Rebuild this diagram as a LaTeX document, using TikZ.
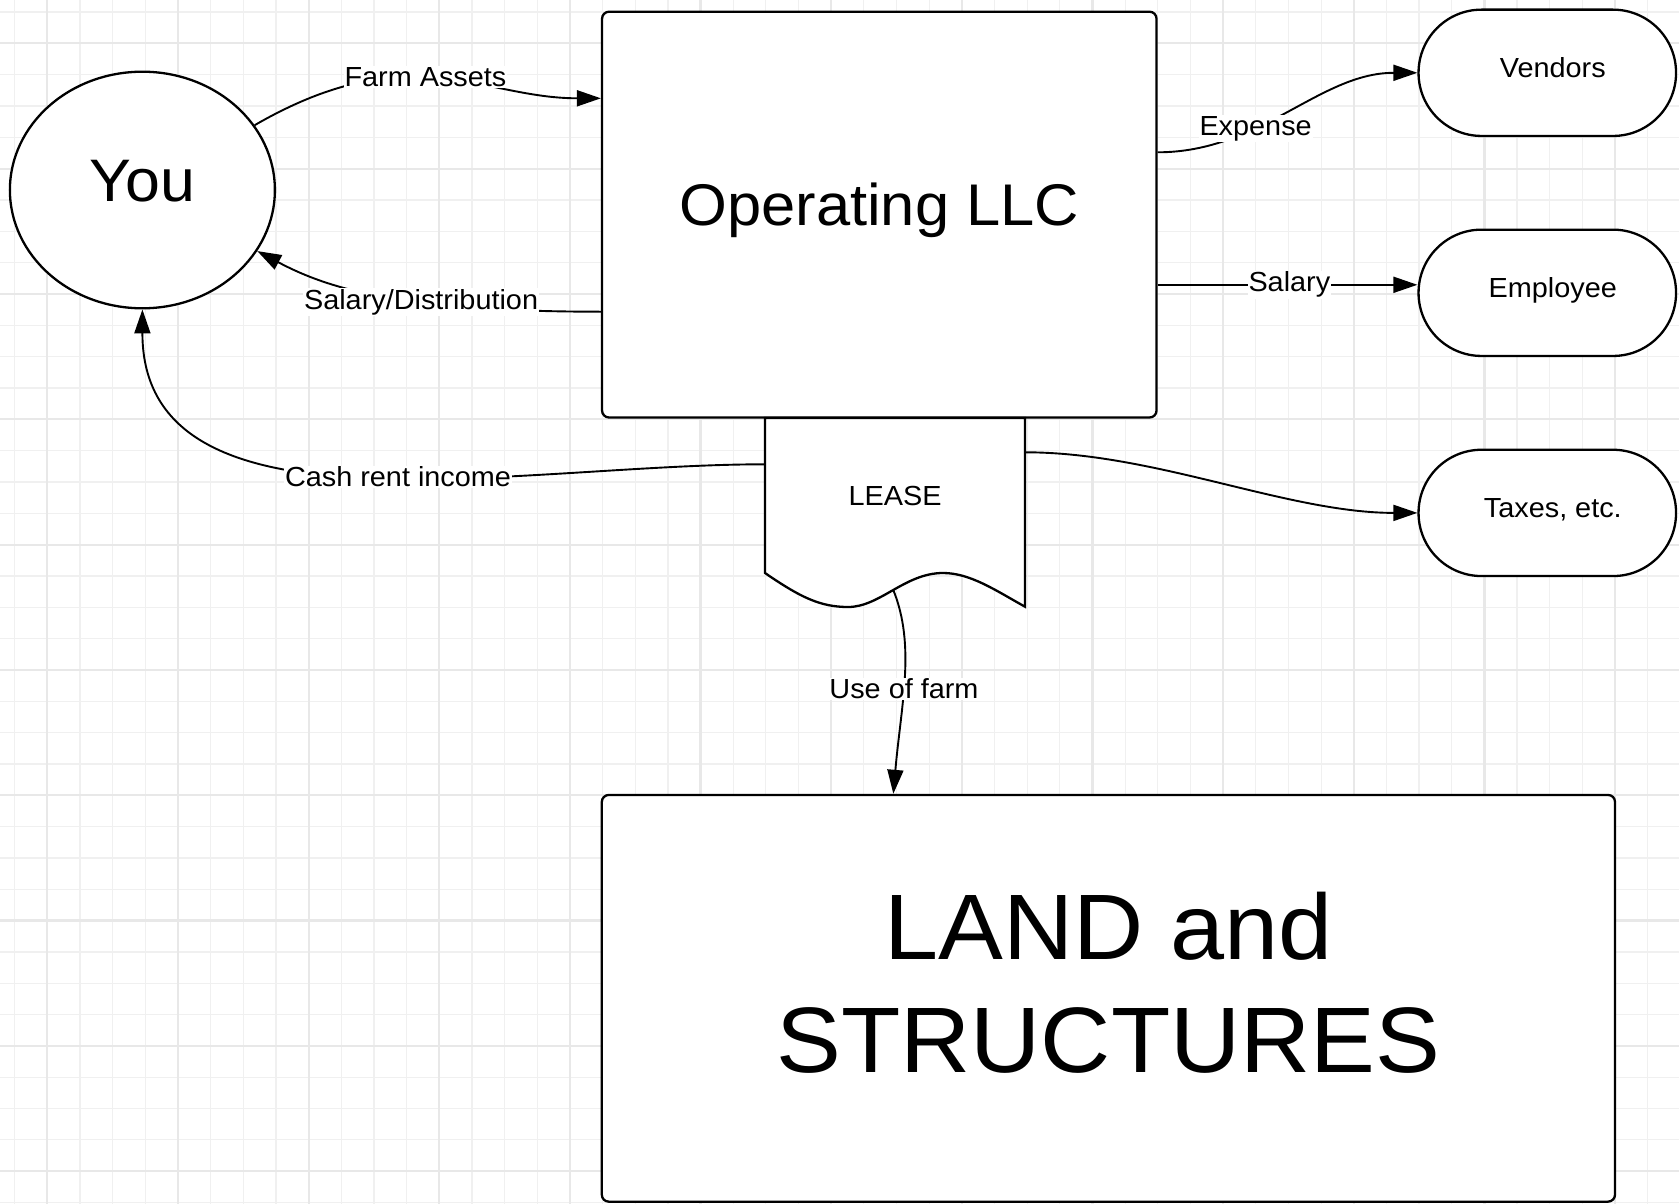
\documentclass[tikz,border=0pt]{standalone}
\usepackage{fontspec}
\setmainfont{Liberation Sans}[FakeStretch=1.045]
\usetikzlibrary{arrows.meta,shapes.geometric}

% font sizes used in the chart
\newcommand\lblsize{\fontsize{27.6}{33}\selectfont}
\newcommand\yousize{\fontsize{60}{72}\selectfont}
\newcommand\llcsize{\fontsize{58.8}{70}\selectfont}
\newcommand\landsize{\fontsize{93}{113.4}\selectfont}
% pill captions sit a little right of the shape centre
\newcommand\pilltext[1]{\hspace*{11pt}#1}

\begin{document}
\begin{tikzpicture}[x=1pt,y=1pt,
  gridminor/.style={draw=black!6, line width=1.2pt},
  gridmajor/.style={draw=black!9, line width=2.2pt},
  outline/.style={draw=black, line width=2.3pt, fill=white},
  box/.style={outline, rectangle, rounded corners=7pt, inner sep=0pt},
  pill/.style={outline, rectangle, rounded corners=63pt, inner sep=0pt,
    minimum width=257.5pt, minimum height=126.3pt,
    font=\lblsize, text height=20pt, text depth=10pt},
  flow/.style={draw=black, line width=1.9pt, -{Triangle[length=24pt,width=16pt]}},
  flowtag/.style={fill=white, inner sep=1pt, font=\lblsize},
]
\useasboundingbox (0,0) rectangle (1679,-1204);
\fill[white] (0,0) rectangle (1679,-1204);

% background grid
\foreach \i in {0,...,50} {
  \pgfmathsetmacro\gx{14.7+32.66*\i}
  \draw[gridminor] (\gx,0) -- (\gx,-1204);
}
\foreach \j in {0,...,38} {
  \pgfmathsetmacro\gy{-12-31.33*\j}
  \draw[gridminor] (0,\gy) -- (1679,\gy);
}
\foreach \i in {1,5,...,49} {
  \pgfmathsetmacro\gx{14.7+32.66*\i}
  \draw[gridmajor] (\gx,0) -- (\gx,-1204);
}
\foreach \j in {1,5,...,37} {
  \pgfmathsetmacro\gy{-12-31.33*\j}
  \draw[gridmajor] (0,\gy) -- (1679,\gy);
}

% entities
\node[outline, ellipse, inner sep=0pt, minimum width=265pt, minimum height=236.6pt,
  font=\yousize, text height=43pt, text depth=19.6pt] (you) at (142.4,-190) {You};

\node[box, minimum width=554.5pt, minimum height=405.8pt,
  font=\llcsize, text height=42pt, text depth=21pt] (llc) at (879.3,-214.6) {Operating LLC};

\node[pill] (vendors) at (1547.3,-72.8) {\pilltext{Vendors}};
\node[pill] (emp) at (1547.3,-292.8) {\pilltext{Employee}};
\node[pill] (taxes) at (1547.3,-512.9) {\pilltext{Taxes, etc.}};

% lease document with its wavy lower edge
\draw[outline] (765,-418) -- (1025,-418) -- (1025,-606.7)
  .. controls (995,-590) and (970,-573) .. (943,-573)
  .. controls (905,-573) and (880,-607) .. (848,-607)
  .. controls (820,-607) and (800,-597) .. (765,-573) -- cycle;
\node[inner sep=0pt, minimum width=260pt, minimum height=155pt, font=\lblsize]
  (lease) at (895,-495.5) {LEASE};
\coordinate (notch) at (893.3,-590);

\node[box, minimum width=1013.2pt, minimum height=406.7pt] (land) at (1108.4,-998.3) {};
\node[font=\landsize, align=center, inner sep=0pt] (landtext) at (1108.4,-983)
  {LAND and\\STRUCTURES};

% flows
\draw[flow] (you.30) to[out=30,in=180,out distance=180pt,in distance=120pt]
  node[flowtag,pos=.45]{Farm Assets} ([yshift=116.3pt]llc.west);

\draw[flow] ([yshift=-97.1pt]llc.west) to[out=180,in=-28,out distance=200pt,in distance=80pt]
  node[flowtag,pos=.38]{Salary/Distribution} (you.-28);

\draw[flow] ([yshift=31.2pt]lease.west) to[out=180,in=-90,out distance=250pt,in distance=235pt]
  node[flowtag,pos=.45]{Cash rent income} (you.south);

\draw[flow] ([yshift=62.3pt]llc.east) to[out=0,in=180,out distance=103pt,in distance=98pt]
  node[flowtag,pos=.36]{Expense} (vendors.west);

\coordinate (salaryend) at ([yshift=8pt]emp.west);
\draw[flow] (llc.east |- salaryend) -- node[flowtag,pos=.507]{Salary} (salaryend);

\draw[flow] ([yshift=43.2pt]lease.east) to[out=0,in=180,distance=130pt] (taxes.west);

\draw[flow] (notch) to[out=-68,in=85,out distance=60pt,in distance=90pt]
  node[flowtag,pos=.55]{Use of farm} (notch |- land.north);
\end{tikzpicture}
\end{document}
